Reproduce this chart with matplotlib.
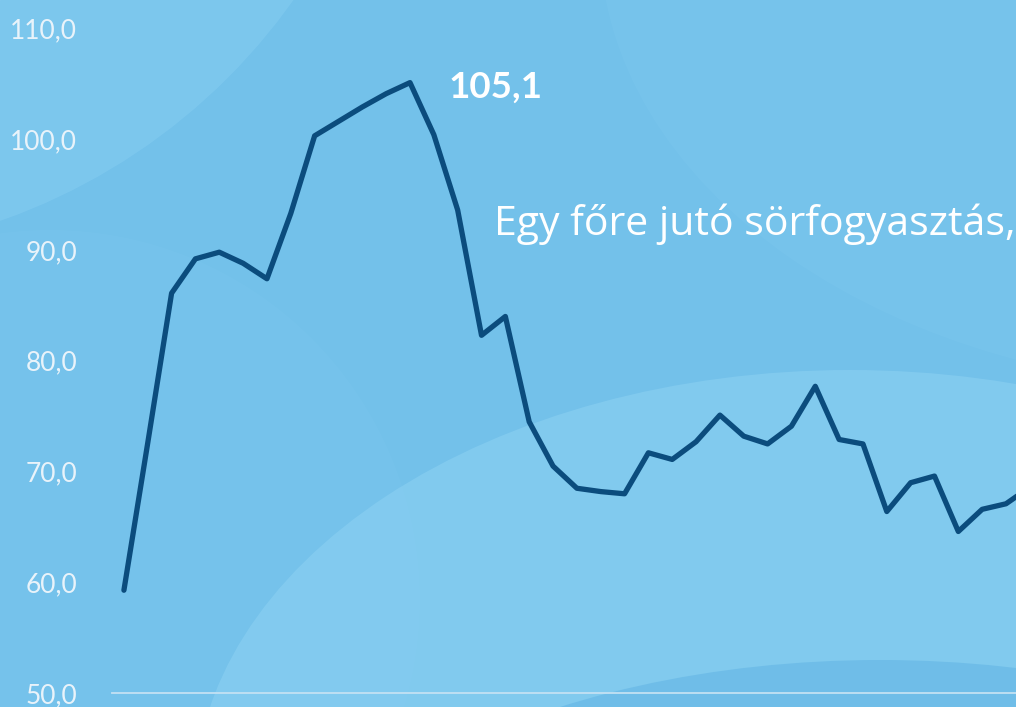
import numpy as np
import matplotlib
matplotlib.use("Agg")
import matplotlib.pyplot as plt
from matplotlib.patches import Ellipse, Rectangle

plt.rcParams['font.family'] = ['Lato', 'DejaVu Sans']

# per capita beer consumption (litres), one value per year, last one runs off the edge
values = [59.3, 72.6, 86.1, 89.2, 89.8, 88.8, 87.4, 93.3, 100.3, 101.6,
          102.9, 104.1, 105.1, 100.4, 93.6, 82.3, 84.0, 74.5, 70.5, 68.5,
          68.2, 68.0, 71.7, 71.1, 72.7, 75.1, 73.2, 72.5, 74.1, 77.7,
          72.9, 72.5, 66.4, 69.0, 69.6, 64.6, 66.6, 67.1, 68.6]
y_ticks = [50, 60, 70, 80, 90, 100, 110]
peak_label = "105,1"
title = "Egy főre jutó sörfogyasztás,"

W, H = 1016, 707
fig = plt.figure(figsize=(W / 100, H / 100), dpi=100)

# background: blue with soft lighter arcs (pixel coords, y down)
bg = fig.add_axes([0, 0, 1, 1])
bg.set_xlim(0, W)
bg.set_ylim(H, 0)
bg.axis('off')
bg.add_patch(Rectangle((0, 0), W, H, color='#73c1ea', zorder=0))
bg.add_patch(Ellipse((-200, -350), 1210, 1210, color='#8fd3f5', alpha=0.35, lw=0, zorder=1))
bg.add_patch(Ellipse((50, 600), 740, 740, color='#8fd3f5', alpha=0.1, lw=0, zorder=1))
bg.add_patch(Ellipse((1250, -60), 1300, 900, color='#8fd3f5', alpha=0.12, lw=0, zorder=1))
bg.add_patch(Ellipse((850, 800), 1311, 860, color='#93d5f4', alpha=0.45, lw=0, zorder=2))
bg.add_patch(Ellipse((880, 1000), 1262, 680, color='#6dbce8', alpha=0.9, lw=0, zorder=3))

ax = fig.add_axes([112 / W, 13.7 / H, 904 / W, 665 / H])
ax.set_facecolor('none')

x = np.arange(len(values))
ax.plot(x, values, color='#0b4c7d', lw=3.8, solid_joinstyle='round',
        solid_capstyle='round', zorder=5)

ax.set_ylim(50, 110)
ax.set_xlim(-0.5, -0.5 + 904 / 23.84)
ax.set_yticks(y_ticks)
ax.set_yticklabels([f"{t},0" for t in y_ticks])
ax.tick_params(axis='y', length=0, pad=25, labelsize=19, labelcolor='#e9f3fa')
ax.set_xticks([])

for s in ['top', 'right', 'left']:
    ax.spines[s].set_visible(False)
ax.spines['bottom'].set_color('#c3e1f3')
ax.spines['bottom'].set_linewidth(1.3)

peak = int(np.argmax(values))
ax.annotate(peak_label, xy=(peak, values[peak]), xytext=(28, -11),
            textcoords='offset points', ha='left', va='baseline',
            fontsize=26.5, fontweight='bold', color='white')

fig.text(494 / W, (H - 235) / H, title, ha='left', va='baseline',
         fontsize=29.5, color='white', family=['Open Sans', 'DejaVu Sans'])

fig.savefig('out.png', dpi=100)
